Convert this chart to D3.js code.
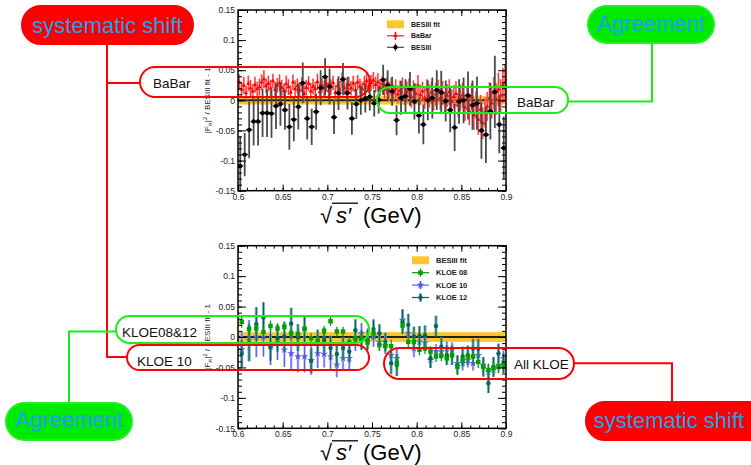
<!DOCTYPE html>
<html>
<head>
<meta charset="utf-8">
<script src="https://cdn.jsdelivr.net/npm/d3@7/dist/d3.min.js"></script>
<style>
  body { margin: 0; background: #fff; }
  svg { display: block; font-family: "Liberation Sans", Arial, Helvetica, sans-serif; }
</style>
</head>
<body>
<div id="chart"></div>
<script>
// ---- axis ticks ----
const yTickVals = [-0.15, -0.1, -0.05, 0, 0.05, 0.1, 0.15];
const yTickLabels = ["-0.15", "-0.1", "-0.05", "0", "0.05", "0.1", "0.15"];
const xTickVals = [0.6, 0.65, 0.7, 0.75, 0.8, 0.85, 0.9];
const xTickLabels = ["0.6", "0.65", "0.7", "0.75", "0.8", "0.85", "0.9"];

// ---- top panel: BESIII points ----
const besX = [
  0.6025, 0.6075, 0.6125, 0.6175, 0.6225, 0.6275, 0.6325, 0.6375, 0.6425, 0.6475,
  0.6525, 0.6575, 0.6625, 0.6675, 0.6725, 0.6775, 0.6825, 0.6875, 0.6925, 0.6975,
  0.7025, 0.7075, 0.7125, 0.7175, 0.7225, 0.7275, 0.7325, 0.7375, 0.7425, 0.7475,
  0.7525, 0.7575, 0.7625, 0.7675, 0.7725, 0.7775, 0.7825, 0.7875, 0.7925, 0.7975,
  0.8025, 0.8075, 0.8125, 0.8175, 0.8225, 0.8275, 0.8325, 0.8375, 0.8425, 0.8475,
  0.8525, 0.8575, 0.8625, 0.8675, 0.8725, 0.8775, 0.8825, 0.8875, 0.8925, 0.8975];
const besY = [
  -0.109, -0.090, -0.049, -0.035, -0.035, -0.021, -0.021, -0.022, -0.0095, -0.006,
  -0.016, -0.044, -0.032, -0.0105, 0.029, -0.030, -0.044, -0.019, 0.021, 0.039,
  0.023, -0.028, 0.012, 0.035, 0.012, -0.030, -0.006, 0.000, 0.003, 0.006,
  -0.005, 0.001, 0.034, 0.025, 0.015, -0.033, 0.004, 0.007, 0.019, -0.002,
  -0.025, -0.040, 0.000, 0.004, 0.017, 0.013, -0.001, -0.016, -0.045, -0.002,
  0.000, 0.008, -0.008, -0.005, -0.050, -0.057, -0.018, 0.014, -0.040, -0.079];
const besErr = [
  0.050, 0.036, 0.047, 0.040, 0.040, 0.040, 0.040, 0.040, 0.038, 0.036,
  0.033, 0.038, 0.036, 0.038, 0.034, 0.035, 0.030, 0.030, 0.029, 0.031,
  0.030, 0.028, 0.028, 0.027, 0.027, 0.027, 0.025, 0.024, 0.023, 0.023,
  0.022, 0.023, 0.025, 0.025, 0.024, 0.025, 0.028, 0.028, 0.028, 0.030,
  0.030, 0.033, 0.033, 0.034, 0.033, 0.036, 0.034, 0.037, 0.039, 0.037,
  0.038, 0.040, 0.041, 0.044, 0.047, 0.047, 0.047, 0.060, 0.048, 0.052];

// ---- top panel: BaBar points ----
const babarX = [
  0.6015, 0.6040, 0.6065, 0.6090, 0.6115, 0.6140, 0.6165, 0.6190, 0.6215, 0.6240,
  0.6265, 0.6290, 0.6315, 0.6340, 0.6365, 0.6390, 0.6415, 0.6440, 0.6465, 0.6490,
  0.6515, 0.6540, 0.6565, 0.6590, 0.6615, 0.6640, 0.6665, 0.6690, 0.6715, 0.6740,
  0.6765, 0.6790, 0.6815, 0.6840, 0.6865, 0.6890, 0.6915, 0.6940, 0.6965, 0.6990,
  0.7015, 0.7040, 0.7065, 0.7090, 0.7115, 0.7140, 0.7165, 0.7190, 0.7215, 0.7240,
  0.7265, 0.7290, 0.7315, 0.7340, 0.7365, 0.7390, 0.7415, 0.7440, 0.7465, 0.7490,
  0.7515, 0.7540, 0.7565, 0.7590, 0.7615, 0.7640, 0.7665, 0.7690, 0.7715, 0.7740,
  0.7765, 0.7790, 0.7815, 0.7840, 0.7865, 0.7890, 0.7915, 0.7940, 0.7965, 0.7990,
  0.8015, 0.8040, 0.8065, 0.8090, 0.8115, 0.8140, 0.8165, 0.8190, 0.8215, 0.8240,
  0.8265, 0.8290, 0.8315, 0.8340, 0.8365, 0.8390, 0.8415, 0.8440, 0.8465, 0.8490,
  0.8515, 0.8540, 0.8565, 0.8590, 0.8615, 0.8640, 0.8665, 0.8690, 0.8715, 0.8740,
  0.8765, 0.8790, 0.8815, 0.8840, 0.8865, 0.8890, 0.8915, 0.8940, 0.8965, 0.8990];
const babarY = [
  0.030, 0.018, 0.025, 0.012, 0.028, 0.020, 0.015, 0.026, 0.019, 0.022,
  0.030, 0.035, 0.024, 0.028, 0.020, 0.032, 0.018, 0.025, 0.029, 0.021,
  0.016, 0.027, 0.022, 0.013, 0.030, 0.019, 0.024, 0.017, 0.026, 0.011,
  0.021, 0.028, 0.015, 0.023, 0.019, 0.031, 0.014, 0.025, 0.020, 0.027,
  0.016, 0.022, 0.029, 0.013, 0.024, 0.018, 0.033, 0.021, 0.015, 0.026,
  0.020, 0.028, 0.017, 0.030, 0.023, 0.019, 0.027, 0.032, 0.024, 0.029,
  0.033, 0.026, 0.030, 0.021, 0.027, 0.018, 0.024, 0.015, 0.022, 0.012,
  0.019, 0.010, 0.016, 0.022, 0.008, 0.014, 0.020, 0.006, 0.017, 0.011,
  0.024, 0.009, 0.015, 0.004, 0.018, 0.007, 0.013, 0.000, 0.010, 0.016,
  0.003, 0.012, -0.004, 0.008, 0.014, -0.002, 0.006, 0.011, -0.008, 0.004,
  0.009, -0.012, 0.002, -0.018, 0.006, -0.025, -0.008, -0.032, -0.015, -0.038,
  -0.020, -0.010, 0.004, -0.005, 0.012, 0.002, 0.018, 0.008, 0.025, 0.030];
const babarErr = [
  0.013, 0.012, 0.014, 0.012, 0.013, 0.014, 0.012, 0.013, 0.012, 0.014,
  0.013, 0.015, 0.012, 0.013, 0.014, 0.012, 0.013, 0.012, 0.014, 0.013,
  0.012, 0.014, 0.013, 0.012, 0.013, 0.014, 0.012, 0.013, 0.012, 0.014,
  0.013, 0.012, 0.014, 0.013, 0.012, 0.013, 0.014, 0.012, 0.013, 0.012,
  0.014, 0.013, 0.012, 0.013, 0.012, 0.014, 0.013, 0.012, 0.014, 0.013,
  0.012, 0.013, 0.014, 0.012, 0.013, 0.012, 0.014, 0.013, 0.012, 0.013,
  0.014, 0.013, 0.015, 0.014, 0.013, 0.015, 0.014, 0.016, 0.015, 0.014,
  0.016, 0.015, 0.017, 0.016, 0.015, 0.017, 0.016, 0.018, 0.016, 0.017,
  0.018, 0.017, 0.016, 0.018, 0.017, 0.019, 0.018, 0.017, 0.019, 0.018,
  0.019, 0.020, 0.018, 0.019, 0.021, 0.020, 0.019, 0.021, 0.020, 0.022,
  0.021, 0.022, 0.020, 0.023, 0.022, 0.024, 0.023, 0.025, 0.024, 0.026,
  0.025, 0.024, 0.026, 0.025, 0.027, 0.026, 0.028, 0.027, 0.029, 0.030];

// ---- bottom panel: KLOE points (same bins for the three sets) ----
const kloeX = [
  0.6042, 0.6124, 0.6205, 0.6285, 0.6364, 0.6442, 0.6519, 0.6595, 0.6671, 0.6745,
  0.6819, 0.6892, 0.6964, 0.7036, 0.7106, 0.7176, 0.7246, 0.7314, 0.7382, 0.7450,
  0.7517, 0.7583, 0.7649, 0.7714, 0.7778, 0.7842, 0.7906, 0.7969, 0.8031, 0.8093,
  0.8155, 0.8216, 0.8276, 0.8337, 0.8396, 0.8456, 0.8515, 0.8573, 0.8631, 0.8689,
  0.8746, 0.8803, 0.8860, 0.8916, 0.8972];
const kloe08Y = [
  0.025, 0.013, 0.014, 0.008, 0.018, 0.014, 0.017, 0.006, 0.005, 0.013,
  -0.002, -0.006, 0.010, 0.026, 0.009, 0.009, -0.008, -0.002, -0.003, -0.009,
  0.006, -0.013, -0.015, -0.015, -0.043, 0.019, -0.008, -0.008, -0.021, -0.019,
  -0.024, -0.032, -0.031, -0.035, -0.030, -0.049, -0.038, -0.032, -0.032, -0.041,
  -0.049, -0.054, -0.051, -0.049, -0.046];
const kloe08Err = [
  0.010, 0.009, 0.009, 0.009, 0.009, 0.008, 0.008, 0.008, 0.008, 0.008,
  0.008, 0.008, 0.008, 0.008, 0.008, 0.008, 0.008, 0.008, 0.008, 0.008,
  0.009, 0.009, 0.010, 0.011, 0.012, 0.012, 0.010, 0.009, 0.009, 0.009,
  0.009, 0.009, 0.009, 0.009, 0.009, 0.010, 0.010, 0.010, 0.010, 0.010,
  0.010, 0.010, 0.010, 0.010, 0.010];
const kloe10Y = [
  -0.020, -0.005, 0.000, 0.000, -0.016, -0.008, -0.021, -0.027, -0.032, -0.032,
  -0.038, -0.027, -0.028, -0.032, -0.046, -0.035, -0.035, -0.005, 0.006, -0.002,
  0.000, -0.008, -0.013, -0.030, -0.035, 0.028, 0.006, -0.019, -0.008, -0.010,
  -0.038, -0.024, -0.024, -0.019, -0.021, -0.043, -0.043, -0.038, -0.043, -0.030,
  -0.046, -0.057, -0.054, -0.046, -0.035];
const kloe10Err = [
  0.030, 0.033, 0.033, 0.032, 0.030, 0.030, 0.028, 0.028, 0.026, 0.026,
  0.024, 0.024, 0.022, 0.022, 0.020, 0.020, 0.018, 0.018, 0.017, 0.016,
  0.016, 0.015, 0.015, 0.016, 0.017, 0.018, 0.015, 0.014, 0.013, 0.013,
  0.013, 0.012, 0.012, 0.012, 0.012, 0.012, 0.012, 0.012, 0.012, 0.012,
  0.012, 0.012, 0.012, 0.012, 0.012];
const kloe12Y = [
  -0.027, -0.010, 0.021, 0.032, -0.017, -0.002, 0.001, 0.022, -0.001, 0.014,
  -0.039, -0.008, -0.005, -0.018, -0.028, -0.018, -0.024, 0.011, -0.005, -0.005,
  0.013, 0.006, -0.008, -0.043, -0.046, 0.025, 0.020, 0.001, 0.002, 0.003,
  -0.035, 0.018, -0.016, -0.030, -0.030, -0.046, -0.032, -0.030, -0.019, -0.019,
  -0.049, -0.076, -0.049, -0.027, -0.043];
const kloe12Err = [
  0.022, 0.030, 0.028, 0.025, 0.022, 0.022, 0.024, 0.026, 0.022, 0.022,
  0.020, 0.020, 0.020, 0.020, 0.018, 0.018, 0.018, 0.018, 0.016, 0.016,
  0.016, 0.015, 0.015, 0.018, 0.018, 0.020, 0.018, 0.016, 0.016, 0.016,
  0.016, 0.017, 0.016, 0.016, 0.016, 0.016, 0.016, 0.016, 0.016, 0.016,
  0.016, 0.016, 0.016, 0.016, 0.016];

// half width of the BESIII fit band in each panel
const bandTop = 0.007;
const bandBottom = 0.008;

const legendTop = ["BESIII fit", "BaBar", "BESIII"];
const legendBottom = ["BESIII fit", "KLOE 08", "KLOE 10", "KLOE 12"];

/* SVG */
var width = 751;
var height = 465;

var svg = d3.select("#chart")
  .append("svg")
  .attr("width", width)
  .attr("height", height);

var x = d3.scaleLinear().domain([0.6, 0.9]).range([238, 506]);
var yTop = d3.scaleLinear().domain([-0.15, 0.15]).range([190.7, 10]);
var yBot = d3.scaleLinear().domain([-0.15, 0.15]).range([428.3, 245.7]);

const colBand = "#fdc631";

function plotArea(y, band, id) {
  svg.append("clipPath").attr("id", id).append("rect")
    .attr("x", x(0.6)).attr("y", y(0.15))
    .attr("width", x(0.9) - x(0.6)).attr("height", y(-0.15) - y(0.15));
  var g = svg.append("g").attr("clip-path", "url(#" + id + ")");
  g.append("rect")
    .attr("x", x(0.6)).attr("width", x(0.9) - x(0.6))
    .attr("y", y(band)).attr("height", y(-band) - y(band))
    .attr("fill", colBand);
  g.append("line")
    .attr("x1", x(0.6)).attr("x2", x(0.9))
    .attr("y1", y(0)).attr("y2", y(0))
    .attr("stroke", "#222").attr("stroke-width", 2);
  return g;
}

function points(g, y, xs, vs, es, o) {
  var pts = xs.map((d, i) => ({ x: d, v: vs[i], e: es[i] }));
  var s = g.append("g");
  if (o.box) {
    s.selectAll("rect").data(pts).join("rect")
      .attr("x", d => x(d.x) - o.box / 2).attr("width", o.box)
      .attr("y", d => y(d.v + d.e))
      .attr("height", d => y(d.v - d.e) - y(d.v + d.e))
      .attr("fill", o.boxColor).attr("opacity", o.boxOpacity || 1);
  }
  s.selectAll("line.v").data(pts).join("line").attr("class", "v")
    .attr("x1", d => x(d.x)).attr("x2", d => x(d.x))
    .attr("y1", d => y(d.v + d.e)).attr("y2", d => y(d.v - d.e))
    .attr("stroke", o.color).attr("stroke-width", o.width || 1);
  if (o.hw) {
    s.selectAll("line.h").data(pts).join("line").attr("class", "h")
      .attr("x1", d => x(d.x) - o.hw).attr("x2", d => x(d.x) + o.hw)
      .attr("y1", d => y(d.v)).attr("y2", d => y(d.v))
      .attr("stroke", o.fill).attr("stroke-width", 1.5);
  }
  s.selectAll("path").data(pts).join("path")
    .attr("transform", d => "translate(" + x(d.x) + "," + y(d.v) + ")")
    .attr("d", d3.symbol(o.symbol, o.size))
    .attr("fill", o.fill);
}

function frame(y) {
  var x0 = x(0.6), x1 = x(0.9), yb = y(-0.15), yt = y(0.15);
  var a = svg.append("g");
  var clean = s => s.select(".domain").remove();
  a.append("g").attr("transform", "translate(" + x0 + ",0)")
    .call(d3.axisLeft(y).tickValues(y.ticks(30)).tickSize(-4).tickFormat("")).call(clean);
  a.append("g").attr("transform", "translate(" + x0 + ",0)")
    .call(d3.axisLeft(y).tickValues(yTickVals).tickSizeInner(-8).tickSizeOuter(0)
      .tickPadding(3).tickFormat((d, i) => yTickLabels[i])).call(clean);
  a.append("g").attr("transform", "translate(" + x1 + ",0)")
    .call(d3.axisRight(y).tickValues(y.ticks(30)).tickSize(-4).tickFormat("")).call(clean);
  a.append("g").attr("transform", "translate(" + x1 + ",0)")
    .call(d3.axisRight(y).tickValues(yTickVals).tickSize(-8).tickFormat("")).call(clean);
  a.append("g").attr("transform", "translate(0," + yb + ")")
    .call(d3.axisBottom(x).tickValues(x.ticks(30)).tickSize(-3).tickFormat("")).call(clean);
  a.append("g").attr("transform", "translate(0," + yb + ")")
    .call(d3.axisBottom(x).tickValues(xTickVals).tickSizeInner(-6).tickSizeOuter(0)
      .tickPadding(3).tickFormat((d, i) => xTickLabels[i])).call(clean);
  a.append("g").attr("transform", "translate(0," + yt + ")")
    .call(d3.axisTop(x).tickValues(x.ticks(30)).tickSize(-3).tickFormat("")).call(clean);
  a.append("g").attr("transform", "translate(0," + yt + ")")
    .call(d3.axisTop(x).tickValues(xTickVals).tickSize(-6).tickFormat("")).call(clean);
  a.selectAll("g").attr("font-family", null).attr("font-size", null);
  a.selectAll("text").attr("font-size", 8.5).attr("fill", "#222");
  a.append("rect")
    .attr("x", x0).attr("y", yt).attr("width", x1 - x0).attr("height", yb - yt)
    .attr("fill", "none").attr("stroke", "#000").attr("stroke-width", 1.5);

  // y title
  var t = svg.append("text")
    .attr("transform", "translate(210," + ((yt + yb) / 2) + ") rotate(-90)")
    .attr("text-anchor", "middle").attr("font-size", 8).attr("fill", "#222");
  t.append("tspan").text("|F");
  t.append("tspan").attr("font-size", 6).attr("dy", 2).text("π");
  t.append("tspan").attr("dy", -2).text("|");
  t.append("tspan").attr("font-size", 6).attr("dy", -3).text("2");
  t.append("tspan").attr("dy", 3).text(" / BESIII fit - 1");

  // x title with square root
  var base = yb + 32;
  var xt = svg.append("g").attr("font-size", 22).attr("fill", "#000");
  xt.append("text").attr("x", 320).attr("y", base).text("√");
  xt.append("text").attr("x", 336).attr("y", base).attr("font-style", "italic").text("s′");
  xt.append("line").attr("x1", 332).attr("x2", 358)
    .attr("y1", base - 19.5).attr("y2", base - 19.5)
    .attr("stroke", "#000").attr("stroke-width", 1.3);
  xt.append("text").attr("x", 363).attr("y", base).text("(GeV)");
}

var styles = {
  besiii: { color: "#4a4a4a", width: 1.8, fill: "#000", symbol: d3.symbolCircle, size: 15, hw: 3 },
  babar: { color: "#ff1a1a", width: 0.8, box: 2, boxColor: "#ff8080", boxOpacity: 0.85, fill: "#ff0000", symbol: d3.symbolTriangle, size: 8 },
  kloe08: { color: "#009a00", width: 1.2, fill: "#00a000", symbol: d3.symbolSquare, size: 20 },
  kloe10: { color: "#5a5af0", width: 1, box: 2.5, boxColor: "#a8a8ff", boxOpacity: 0.8, fill: "#5555ee", symbol: d3.symbolStar, size: 18 },
  kloe12: { color: "#005f5f", width: 1, box: 3, boxColor: "#5d9e9e", boxOpacity: 0.8, fill: "#006666", symbol: d3.symbolCircle, size: 15 }
};

// ---- top panel ----
var gTop = plotArea(yTop, bandTop, "clipTop");
points(gTop, yTop, babarX, babarY, babarErr, styles.babar);
points(gTop, yTop, besX, besY, besErr, styles.besiii);
frame(yTop);

// ---- bottom panel ----
var gBot = plotArea(yBot, bandBottom, "clipBot");
points(gBot, yBot, kloeX, kloe10Y, kloe10Err, styles.kloe10);
points(gBot, yBot, kloeX, kloe12Y, kloe12Err, styles.kloe12);
points(gBot, yBot, kloeX, kloe08Y, kloe08Err, styles.kloe08);
frame(yBot);

// ---- legends ----
function legend(lx, ly, step, names, keys, fs) {
  var g = svg.append("g").attr("font-size", fs).attr("font-weight", "bold").attr("fill", "#222");
  names.forEach((name, i) => {
    var cy = ly + i * step;
    if (i === 0) {
      g.append("rect").attr("x", lx).attr("y", cy - 4).attr("width", 17).attr("height", 8).attr("fill", colBand);
    } else {
      var st = styles[keys[i]];
      g.append("line").attr("x1", lx).attr("x2", lx + 17).attr("y1", cy).attr("y2", cy)
        .attr("stroke", st.color).attr("stroke-width", 1.2);
      if (st.box) {
        g.append("rect").attr("x", lx + 8.5 - st.box / 2).attr("y", cy - 4).attr("width", st.box).attr("height", 8)
          .attr("fill", st.boxColor).attr("opacity", st.boxOpacity);
      }
      g.append("line").attr("x1", lx + 8.5).attr("x2", lx + 8.5).attr("y1", cy - 4).attr("y2", cy + 4)
        .attr("stroke", st.color).attr("stroke-width", 1.2);
      g.append("path").attr("transform", "translate(" + (lx + 8.5) + "," + cy + ")")
        .attr("d", d3.symbol(st.symbol, st.size)).attr("fill", st.fill);
    }
    g.append("text").attr("x", lx + 24).attr("y", cy).attr("dy", "0.35em").text(name);
  });
}
legend(387, 24.3, 11.5, legendTop, ["band", "babar", "besiii"], 7);
legend(412, 260.3, 12.4, legendBottom, ["band", "kloe08", "kloe10", "kloe12"], 7.5);

// ---- annotations ----
var red = "#ff0000", green = "#19ee19", blue = "#1e9fe8";
var ann = svg.append("g");

function wire(pts, color) {
  ann.append("path").attr("d", d3.line()(pts))
    .attr("fill", "none").attr("stroke", color).attr("stroke-width", 2);
}
function pill(bx, by, w, h, color, fill) {
  ann.append("rect").attr("x", bx).attr("y", by).attr("width", w).attr("height", h)
    .attr("rx", h / 2).attr("ry", h / 2)
    .attr("fill", fill || "none").attr("stroke", color).attr("stroke-width", 2);
}
function label(tx, ty, str, size, color, anchor) {
  ann.append("text").attr("x", tx).attr("y", ty).attr("font-size", size)
    .attr("fill", color).attr("text-anchor", anchor || "start").text(str);
}

wire([[107, 44], [107, 357], [127, 357]], red);
wire([[107, 83], [140, 83]], red);
wire([[568, 101.5], [652, 101.5], [652, 43]], green);
wire([[116, 331.5], [69, 331.5], [69, 403]], green);
wire([[574, 363.3], [672, 363.3], [672, 402]], red);

pill(22, 6, 171, 38, red, red);
label(107.5, 33, "systematic shift", 22, blue, "middle");
pill(588, 6, 126, 37, "#22f022", "#00ea00");
label(651, 31, "Agreement", 22, blue, "middle");

pill(140, 67, 230, 30, red);
label(153, 88, "BaBar", 13.5, "#111");
pill(377, 87, 191, 26, green);
label(517, 106.5, "BaBar", 13.5, "#111");

pill(116, 316, 253, 27, green);
label(122, 336.5, "KLOE08&12", 13.5, "#111");
pill(127, 345, 242, 25, red);
label(137, 366, "KLOE 10", 13.5, "#111");
pill(384, 348, 190, 31, red);
label(514, 369, "All KLOE", 13.5, "#111");

pill(6, 403, 126, 37, "#22f022", "#00ea00");
label(69, 427, "Agreement", 22, blue, "middle");
pill(586, 402, 190, 38, red, red);
label(669, 427.5, "systematic shift", 22, blue, "middle");
</script>
</body>
</html>
